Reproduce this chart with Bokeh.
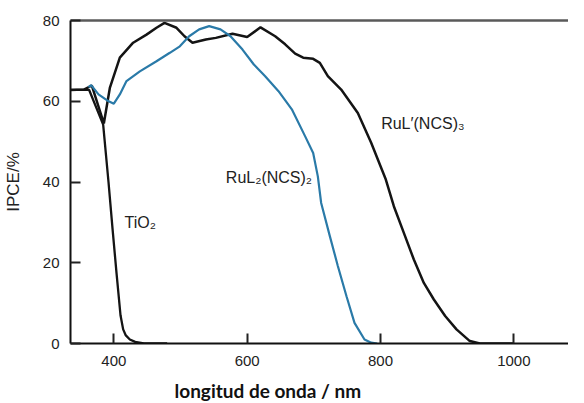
from bokeh.plotting import figure
from bokeh.models import Range1d, LinearAxis, FixedTicker, Label, Title
from bokeh.embed import file_html
from bokeh.resources import INLINE

# IPCE spectra (wavelength in nm, IPCE in %)
tio2_nm = [335, 363, 384, 392, 398, 404, 410, 414, 418, 424, 432, 445, 480]
tio2_ipce = [62.8, 62.8, 54.2, 40.0, 28.5, 17.5, 7.0, 3.5, 2.0, 1.0, 0.4, 0.0, 0.0]

rul3_nm = [335, 355, 367, 385, 394, 409, 429, 449, 464, 476, 494, 506, 518, 538, 553,
           578, 600, 620, 642, 657, 672, 684, 699, 709, 721, 741, 766, 786, 808, 820,
           835, 850, 865, 880, 897, 914, 934, 949, 1000]
rul3_ipce = [62.8, 62.9, 63.9, 54.5, 63.3, 70.8, 74.5, 76.5, 78.2, 79.4, 78.2, 76.1, 74.5,
             75.3, 75.7, 76.7, 75.9, 78.3, 76.1, 74.1, 71.8, 70.8, 70.5, 69.5, 66.2, 62.9,
             57.1, 49.7, 40.6, 34.0, 27.4, 20.8, 15.0, 10.9, 6.8, 3.5, 0.6, 0.0, 0.0]

rul2_nm = [362, 366, 377, 390, 400, 409, 419, 439, 464, 484, 499, 513, 528, 543, 560,
           575, 593, 610, 627, 647, 667, 687, 699, 706, 711, 724, 736, 749, 761, 776,
           786, 795]
rul2_ipce = [63.5, 64.0, 61.7, 60.2, 59.4, 61.7, 65.0, 67.4, 69.9, 72.0, 73.6, 76.1, 77.8,
             78.6, 77.8, 76.1, 72.8, 69.1, 66.2, 62.5, 58.0, 51.3, 47.2, 41.4, 34.8, 26.6,
             19.2, 11.7, 5.1, 1.0, 0.2, 0.0]

x_ticks = [400, 600, 800, 1000]
y_ticks = [0, 20, 40, 60, 80]

p = figure(width=568, height=401, output_backend="svg", toolbar_location=None,
           x_range=Range1d(335, 1082), y_range=Range1d(0, 80),
           min_border_left=65, min_border_top=20, min_border_right=0, min_border_bottom=0)
p.grid.visible = False
p.outline_line_color = None
p.background_fill_color = "white"

p.line(tio2_nm, tio2_ipce, line_color="#141414", line_width=2.3)
p.line(rul3_nm, rul3_ipce, line_color="#141414", line_width=2.5)
p.line(rul2_nm, rul2_ipce, line_color="#2a7aa8", line_width=2.2)

for ax in (p.xaxis, p.yaxis):
    ax.axis_line_color = "#111111"
    ax.axis_line_width = 2
    ax.major_tick_line_color = "#222222"
    ax.major_tick_line_width = 2
    ax.major_tick_in = 10
    ax.major_tick_out = 0
    ax.minor_tick_line_color = None
    ax.major_label_text_font = "Liberation Sans"
    ax.major_label_text_font_size = "15px"
    ax.major_label_text_color = "#222222"

p.xaxis.ticker = FixedTicker(ticks=x_ticks)
p.xaxis.major_label_standoff = 12
# blank axis label only adds a little room above the title
p.xaxis.axis_label = " "
p.xaxis.axis_label_text_font_size = "4px"
p.xaxis.axis_label_standoff = 0

p.yaxis.ticker = FixedTicker(ticks=y_ticks)
p.yaxis.major_label_standoff = 11
p.yaxis.axis_label = "IPCE/%"
p.yaxis.axis_label_text_font = "Liberation Sans"
p.yaxis.axis_label_text_font_size = "17px"
p.yaxis.axis_label_text_font_style = "normal"
p.yaxis.axis_label_text_color = "#222222"
p.yaxis.axis_label_standoff = 17

# grey line along the top of the frame
top = LinearAxis(ticker=FixedTicker(ticks=[]), axis_line_color="#5a5a5a", axis_line_width=2.5,
                 major_tick_line_color=None, minor_tick_line_color=None,
                 major_label_text_font_size="0px")
p.add_layout(top, "above")

# x axis title sits left of centre in the original
p.add_layout(Title(text="longitud de onda / nm", align="left", offset=104, standoff=0,
                   text_font="Lato", text_font_size="19px", text_font_style="bold",
                   text_color="#111111"), "below")

lab = dict(text_font="Liberation Sans", text_font_size="16px", text_color="#222222",
           text_baseline="middle", text_align="left")
p.add_layout(Label(x=416, y=30, text="TiO₂", **lab))
p.add_layout(Label(x=568, y=41, text="RuL₂(NCS)₂", **lab))
p.add_layout(Label(x=801, y=54.5, text="RuL′(NCS)₃", **lab))

open("out.html", "w").write(file_html(p, INLINE))
